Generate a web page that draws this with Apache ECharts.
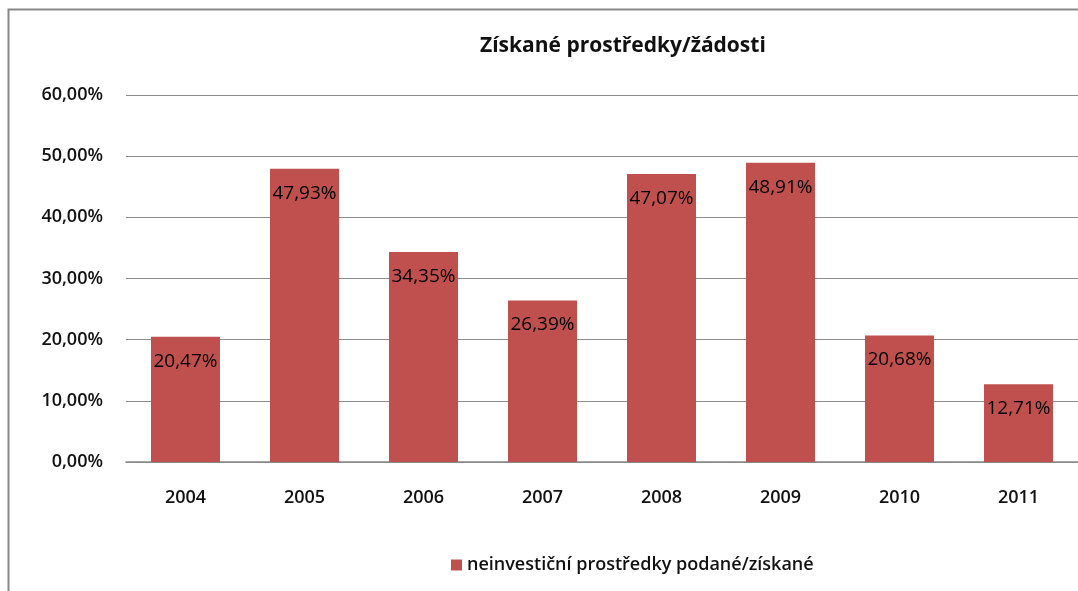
<!DOCTYPE html>
<html>
<head>
<meta charset="utf-8">
<style>
  html, body { margin: 0; padding: 0; background: #fff; }
  #echarts { width: 1078px; height: 591px; }
</style>
<script src="https://cdn.jsdelivr.net/npm/echarts@6/dist/echarts.min.js"></script>
</head>
<body>
<div id="echarts"></div>
<script>
const years = ['2004', '2005', '2006', '2007', '2008', '2009', '2010', '2011'];
const ratios = [20.47, 47.93, 34.35, 26.39, 47.07, 48.91, 20.68, 12.71];
const seriesName = 'neinvestiční prostředky podané/získané';
const chartTitle = 'Získané prostředky/žádosti';

const fmt = v => v.toFixed(2).replace('.', ',') + '%';
const font = '"Open Sans", Lato, sans-serif';

let myChart = echarts.init(document.getElementById('echarts'));
let option = {
  animation: false,
  textStyle: { fontFamily: font },
  graphic: [
    {
      type: 'rect',
      shape: { x: 8.5, y: 9.5, width: 1100, height: 600 },
      style: { fill: 'none', stroke: '#878787', lineWidth: 2 },
    },
  ],
  title: {
    text: chartTitle,
    left: 475,
    top: 31,
    textStyle: { fontSize: 21, fontWeight: 'bold', color: '#111', fontFamily: font },
  },
  legend: {
    left: 446,
    top: 551,
    itemWidth: 11,
    itemHeight: 11,
    icon: 'rect',
    itemGap: 4,
    textStyle: { fontSize: 18, fontWeight: 600, color: '#111', fontFamily: font },
    data: [seriesName],
  },
  grid: {
    left: 126,
    top: 95,
    width: 961,
    height: 367,
  },
  xAxis: {
    type: 'category',
    data: years,
    axisTick: { show: false },
    axisLine: { lineStyle: { color: '#888', width: 1.5 } },
    axisLabel: { color: '#111', fontSize: 18, fontWeight: 600, margin: 27, fontFamily: font },
  },
  yAxis: {
    type: 'value',
    min: 0,
    max: 60,
    interval: 10,
    axisLabel: {
      formatter: v => fmt(v),
      color: '#111',
      fontSize: 18,
      fontWeight: 600,
      margin: 23,
      fontFamily: font,
    },
    splitLine: { lineStyle: { color: '#8c8c8c', width: 1.2 } },
    axisLine: { show: false },
    axisTick: { show: false },
  },
  series: [
    {
      name: seriesName,
      type: 'bar',
      data: ratios,
      barWidth: 69,
      itemStyle: { color: '#C0504D' },
      label: {
        show: true,
        position: 'insideTop',
        distance: 15,
        formatter: p => fmt(p.value),
        color: '#000',
        fontSize: 19,
        fontFamily: font,
      },
    },
  ],
};
myChart.setOption(option);
</script>
</body>
</html>
